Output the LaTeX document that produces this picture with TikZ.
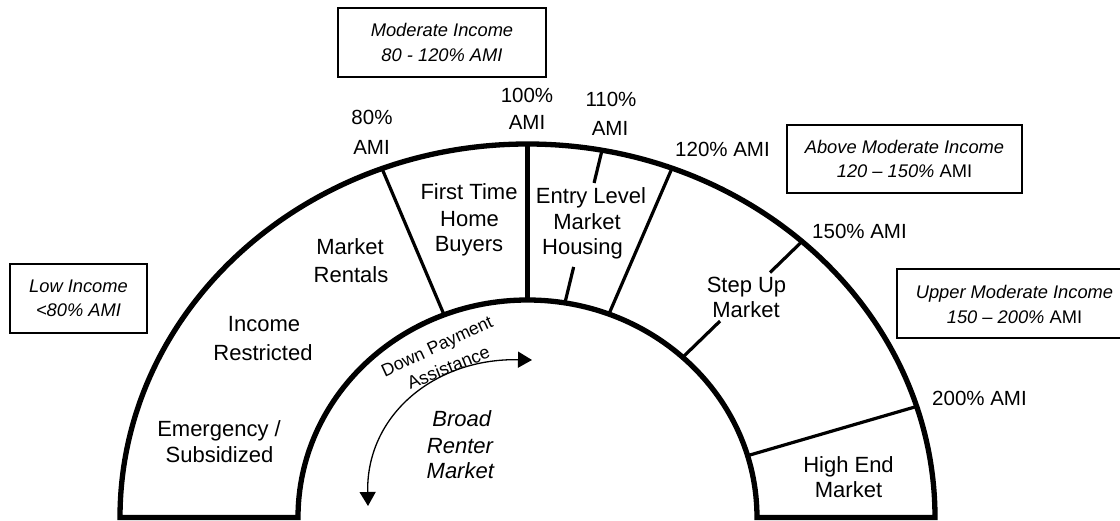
\documentclass[tikz,border=0pt]{standalone}
\usepackage{fontspec}
\setmainfont{Liberation Sans}
\usetikzlibrary{arrows.meta,calc}
\begin{document}
\begin{tikzpicture}[x=1pt,y=1pt,
  seg/.style={font=\fontsize{22}{26}\selectfont, inner sep=0pt, anchor=base},
  amil/.style={font=\fontsize{20.5}{24}\selectfont, inner sep=0pt, anchor=base},
  amiw/.style={font=\fontsize{20.5}{24}\selectfont, inner sep=0pt, anchor=base west},
  broad/.style={font=\fontsize{22}{26}\selectfont\itshape, inner sep=0pt, anchor=base},
  dpa/.style={font=\fontsize{17.8}{22}\selectfont, inner sep=0pt, anchor=base},
  boxtext/.style={font=\fontsize{18.3}{24.5}\selectfont, align=center, inner sep=0pt},
  incomebox/.style={boxtext, draw, line width=1.3pt},
  divider/.style={line width=3.2pt},
  maindivider/.style={line width=4.8pt},
  outline/.style={line width=5.3pt, line join=miter},
  twoway/.style={line width=1.3pt, {Triangle[length=14pt,width=16pt]}-{Triangle[length=14pt,width=16pt]}}
]
\useasboundingbox (0,0) rectangle (1120,-521);

% divider end points (outer / inner)
\coordinate (o80) at (382,-168.6);
\coordinate (i80) at (444.1,-314.9);
\coordinate (o100) at (527.5,-144);
\coordinate (i100) at (527.5,-300);
\coordinate (o110) at (602,-150.3);
\coordinate (i110) at (564.9,-303);
\coordinate (o120) at (672,-168.2);
\coordinate (i120) at (608.9,-314.1);
\coordinate (o150) at (802,-241.5);
\coordinate (i150) at (682.7,-357.3);
\coordinate (o200) at (916.5,-406.5);
\coordinate (i200) at (747.5,-455.7);

% dividers
\draw[divider] (o80) -- (i80);
\draw[maindivider] (o100) -- (i100);
\draw[divider] (o110) -- ($(o110)!0.214!(i110)$);
\draw[divider] ($(o110)!0.764!(i110)$) -- (i110);
\draw[divider] (o120) -- (i120);
\draw[divider] (o150) -- ($(o150)!0.268!(i150)$);
\draw[divider] ($(o150)!0.687!(i150)$) -- (i150);
\draw[divider] (o200) -- (i200);

% the band
\draw[outline] (120,-517.5) arc[start angle=180,end angle=0,x radius=407.5,y radius=373.5]
  -- (757,-517.5) arc[start angle=0,end angle=180,x radius=229.5,y radius=217.5] -- cycle;

% income boxes
\node[incomebox, font=\fontsize{18.3}{24.5}\selectfont\itshape, minimum width=208pt, minimum height=69pt] (modbox) at (442,-42.5) {Moderate Income\\80 - 120\% AMI};
\node[incomebox, font=\fontsize{18.3}{24.5}\selectfont\itshape, minimum width=137pt, minimum height=69pt] (lowbox) at (78.5,-298.5) {Low Income\\<80\% AMI};
\node[incomebox, minimum width=235pt, minimum height=68pt] (abovebox) at (904.5,-159) {\textit{Above Moderate Income}\\\textit{120 – 150\%} AMI};
\draw[line width=1.3pt] (1121,-269) -- (897,-269) -- (897,-338) -- (1121,-338);
\node[boxtext] (uppertext) at (1014.5,-304.5) {\textit{Upper Moderate Income}\\\textit{150 – 200\%} AMI};

% AMI labels
\node[amil] (a80a) at (372,-125) {80\%};
\node[amil] (a80b) at (371.5,-155) {AMI};
\node[amil] (a100a) at (527,-102.5) {100\%};
\node[amil] (a100b) at (527,-130) {AMI};
\node[amil] (a110a) at (611,-106.5) {110\%};
\node[amil] (a110b) at (610,-135.5) {AMI};
\node[amiw] (a120) at (675,-157) {120\% AMI};
\node[amiw] (a150) at (812,-239) {150\% AMI};
\node[amiw] (a200) at (932,-406) {200\% AMI};

% segment labels
\node[seg] (s1a) at (219,-437) {Emergency /};
\node[seg] (s1b) at (219.5,-463) {Subsidized};
\node[seg] (s2a) at (264,-332) {Income};
\node[seg] (s2b) at (263,-361) {Restricted};
\node[seg] (s3a) at (350,-255) {Market};
\node[seg] (s3b) at (351,-283) {Rentals};
\node[seg] (s4a) at (469,-200) {First Time};
\node[seg] (s4b) at (469.5,-227) {Home};
\node[seg] (s4c) at (469,-252) {Buyers};
\node[seg] (s5a) at (591,-204) {Entry Level};
\node[seg] (s5b) at (587,-230) {Market};
\node[seg] (s5c) at (582.5,-255) {Housing};
\node[seg] (s6a) at (746.5,-293) {Step Up};
\node[seg] (s6b) at (746,-318) {Market};
\node[seg] (s7a) at (848.5,-472) {High End};
\node[seg] (s7b) at (848.5,-497) {Market};

% inner area
\node[dpa, rotate=25] (dpa1) at (439.5,-351.7) {Down Payment};
\node[dpa, font=\fontsize{18}{22}\selectfont, rotate=22] (dpa2) at (450.8,-373.3) {Assistance};
\node[broad] (br1) at (461.7,-426.7) {Broad};
\node[broad] (br2) at (460,-453.3) {Renter};
\node[broad] (br3) at (460.3,-478.3) {Market};

\coordinate (arrA) at (368,-506);
\coordinate (arrB) at (532,-360);
\draw[twoway] (arrA) .. controls (366,-415) and (435,-358) .. (arrB);
\end{tikzpicture}
\end{document}
